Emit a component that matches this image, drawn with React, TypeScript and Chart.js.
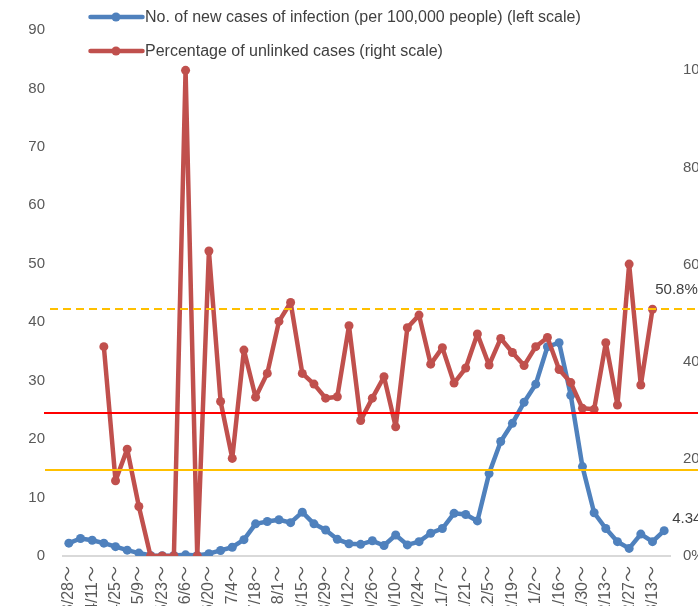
import React, { useEffect, useRef } from "react";
import { Chart, registerables } from "chart.js";

Chart.register(...registerables);

const weekLabels = [
  "3/28～", "4/4～", "4/11～", "4/18～", "4/25～", "5/2～", "5/9～", "5/16～", "5/23～", "5/30～",
  "6/6～", "6/13～", "6/20～", "6/27～", "7/4～", "7/11～", "7/18～", "7/25～", "8/1～", "8/8～",
  "8/15～", "8/22～", "8/29～", "9/5～", "9/12～", "9/19～", "9/26～", "10/3～", "10/10～", "10/17～",
  "10/24～", "10/31～", "11/7～", "11/14～", "11/21～", "11/28～", "12/5～", "12/12～", "12/19～", "12/26～",
  "1/2～", "1/9～", "1/16～", "1/23～", "1/30～", "2/6～", "2/13～", "2/20～", "2/27～", "3/6～",
  "3/13～", "3/20～",
];

const newCasesPer100k = [
  2.2, 3.0, 2.7, 2.2, 1.6, 1.0, 0.5, 0.1, 0.05, 0.1,
  0.2, 0.1, 0.4, 0.95, 1.5, 2.8, 5.5, 5.9, 6.2, 5.7,
  7.5, 5.5, 4.45, 2.85, 2.1, 2.0, 2.6, 1.8, 3.6, 1.9,
  2.45, 3.9, 4.7, 7.3, 7.1, 6.0, 14.1, 19.6, 22.7, 26.3,
  29.4, 35.8, 36.5, 27.5, 15.3, 7.4, 4.7, 2.45, 1.3, 3.75,
  2.45, 4.34,
];

const unlinkedPct = [
  null, null, null, 43.1, 15.5, 22.0, 10.2, 0, 0, 0,
  100, 0, 62.8, 31.8, 20.1, 42.4, 32.7, 37.6, 48.3, 52.2,
  37.6, 35.4, 32.5, 32.8, 47.4, 27.9, 32.5, 36.9, 26.6, 47.0,
  49.6, 39.5, 42.9, 35.6, 38.7, 45.7, 39.3, 44.8, 41.9, 39.2,
  43.1, 45.0, 38.4, 35.7, 30.4, 30.2, 43.9, 31.1, 60.1, 35.2,
  50.8, null,
];

const leftAxisMax = 90;
const leftAxisStep = 10;
const rightAxisMax = 108.3;
const rightAxisStep = 20;

const redThreshold = 24.5; // left scale
const yellowThreshold = 14.8; // left scale
const unlinkedReference = 50.8; // right scale (%)

const legendLabels = [
  "No. of new cases of infection (per 100,000 people) (left scale)",
  "Percentage of unlinked cases (right scale)",
];

const BLUE = "#4F81BD";
const RED = "#C0504D";
const FONT = "'Liberation Sans', Arial, 'Noto Sans CJK JP', sans-serif";
const TICK_COLOR = "#595959";
const TICK_SIZE = 15;
const X_TICK_SIZE = 16;

const refLinesPlugin = {
  id: "refLines",
  afterDatasetsDraw(chart: any) {
    const { ctx, chartArea, scales } = chart;
    const right = chart.width;
    const drawLine = (y: number, color: string, left: number, dash: number[]) => {
      ctx.save();
      ctx.beginPath();
      ctx.strokeStyle = color;
      ctx.lineWidth = 2;
      ctx.setLineDash(dash);
      ctx.moveTo(left, y);
      ctx.lineTo(right, y);
      ctx.stroke();
      ctx.restore();
    };
    drawLine(Math.round(scales.y.getPixelForValue(redThreshold)), "#FF0000", chartArea.left - 19, []);
    drawLine(Math.round(scales.y.getPixelForValue(yellowThreshold)), "#FFC000", chartArea.left - 18, []);
    drawLine(Math.round(scales.y2.getPixelForValue(unlinkedReference)), "#FFC000", chartArea.left - 13, [8, 5]);
  },
};

const endLabelsPlugin = {
  id: "endLabels",
  afterDatasetsDraw(chart: any) {
    const { ctx } = chart;
    ctx.save();
    ctx.font = `${TICK_SIZE}px ${FONT}`;
    ctx.fillStyle = "#404040";
    ctx.textBaseline = "middle";

    let ri = unlinkedPct.length - 1;
    while (ri >= 0 && unlinkedPct[ri] == null) ri--;
    const redMeta = chart.getDatasetMeta(0);
    const rp = redMeta.data[ri];
    if (rp) {
      ctx.textAlign = "center";
      ctx.fillText(`${(unlinkedPct[ri] as number).toFixed(1)}%`, rp.x + 24, rp.y - 19);
    }

    const bi = newCasesPer100k.length - 1;
    const blueMeta = chart.getDatasetMeta(1);
    const bp = blueMeta.data[bi];
    if (bp) {
      ctx.textAlign = "left";
      ctx.fillText(newCasesPer100k[bi].toFixed(2), bp.x + 8, bp.y - 12);
    }
    ctx.restore();
  },
};

function LegendItem({ color, text, top }: { color: string; text: string; top: number }) {
  return (
    <div
      style={{
        position: "absolute",
        left: 88,
        top: top - 10,
        height: 20,
        display: "flex",
        alignItems: "center",
        whiteSpace: "nowrap",
      }}
    >
      <svg width={57} height={12} style={{ display: "block" }}>
        <line x1={2.5} y1={6} x2={54.5} y2={6} stroke={color} strokeWidth={4.5} strokeLinecap="round" />
        <circle cx={28} cy={6} r={4.5} fill={color} />
      </svg>
      <span style={{ fontFamily: FONT, fontSize: 16, color: "#404040" }}>{text}</span>
    </div>
  );
}

export default function App() {
  const canvasRef = useRef<HTMLCanvasElement>(null);

  useEffect(() => {
    const canvas = canvasRef.current;
    if (!canvas) return;
    const chart = new Chart(canvas, {
      type: "line",
      data: {
        labels: weekLabels,
        datasets: [
          {
            label: legendLabels[1],
            data: unlinkedPct as any,
            yAxisID: "y2",
            borderColor: RED,
            backgroundColor: RED,
            pointBackgroundColor: RED,
            pointBorderColor: RED,
            borderWidth: 4.5,
            pointRadius: 4.5,
            pointBorderWidth: 0,
            tension: 0,
            spanGaps: false,
            borderJoinStyle: "round",
            borderCapStyle: "round",
            order: 1,
          },
          {
            label: legendLabels[0],
            data: newCasesPer100k,
            yAxisID: "y",
            borderColor: BLUE,
            backgroundColor: BLUE,
            pointBackgroundColor: BLUE,
            pointBorderColor: BLUE,
            borderWidth: 4.5,
            pointRadius: 4.5,
            pointBorderWidth: 0,
            tension: 0,
            borderJoinStyle: "round",
            borderCapStyle: "round",
            order: 2,
          },
        ],
      },
      options: {
        responsive: false,
        animation: false,
        maintainAspectRatio: false,
        layout: { padding: { top: 30, left: 0, right: 0, bottom: 0 } },
        plugins: {
          legend: { display: false },
          tooltip: { enabled: false },
        },
        scales: {
          x: {
            type: "category",
            offset: true,
            grid: { display: false, drawTicks: false },
            border: { display: true, color: "#D9D9D9", width: 2 },
            ticks: {
              autoSkip: false,
              maxRotation: 90,
              minRotation: 90,
              padding: 10,
              color: TICK_COLOR,
              font: { family: FONT, size: X_TICK_SIZE },
              callback: function (this: any, value: any, index: number) {
                return index % 2 === 0 ? this.getLabelForValue(value) : "";
              },
            },
            afterFit: (s: any) => {
              s.height = 84;
            },
          },
          y: {
            position: "left",
            min: 0,
            max: leftAxisMax,
            grid: { display: false, drawTicks: false },
            border: { display: false },
            ticks: {
              stepSize: leftAxisStep,
              padding: 18,
              color: TICK_COLOR,
              font: { family: FONT, size: TICK_SIZE },
            },
            afterFit: (s: any) => {
              s.width = 63;
            },
          },
          y2: {
            position: "right",
            min: 0,
            max: rightAxisMax,
            grid: { display: false, drawTicks: false },
            border: { display: false },
            ticks: {
              stepSize: rightAxisStep,
              padding: 13,
              color: TICK_COLOR,
              font: { family: FONT, size: TICK_SIZE },
              callback: (v: any) => (Math.abs(v % rightAxisStep) < 1e-6 ? `${v}%` : null),
            },
            afterFit: (s: any) => {
              s.width = 70;
            },
          },
        },
      },
      plugins: [refLinesPlugin, endLabelsPlugin],
    });
    return () => chart.destroy();
  }, []);

  return (
    <div
      style={{
        position: "fixed",
        left: 0,
        top: 0,
        width: 698,
        height: 606,
        overflow: "hidden",
        background: "#ffffff",
      }}
    >
      <canvas ref={canvasRef} width={740} height={640} style={{ display: "block", width: 740, height: 640 }} />
      <LegendItem color={BLUE} text={legendLabels[0]} top={17} />
      <LegendItem color={RED} text={legendLabels[1]} top={51} />
    </div>
  );
}
